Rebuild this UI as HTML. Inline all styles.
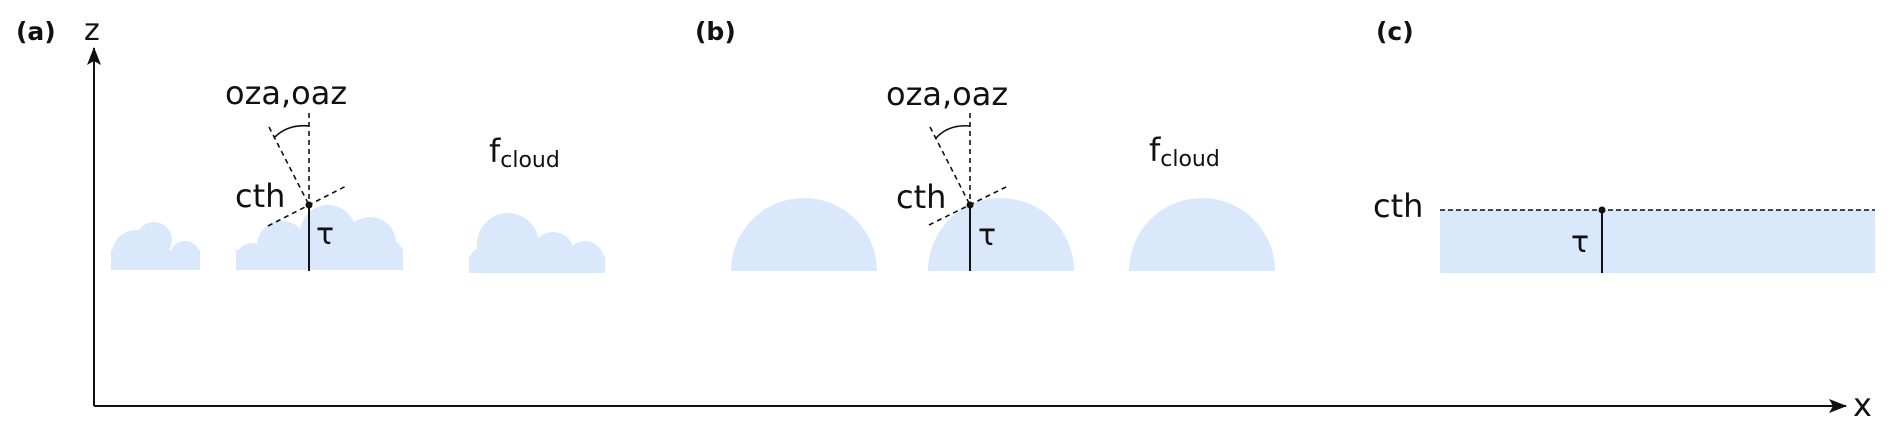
<!DOCTYPE html>
<html><head><meta charset="utf-8"><style>
html,body{margin:0;padding:0;background:#fff;}
svg{display:block;}
text{font-family:"DejaVu Sans","Liberation Sans",sans-serif;fill:#111;}
</style></head><body>
<svg width="1892" height="434" viewBox="0 0 1892 434" xmlns="http://www.w3.org/2000/svg">
<defs>
<marker id="ah" markerWidth="18" markerHeight="14" refX="17" refY="7" orient="auto" markerUnits="userSpaceOnUse" viewBox="0 0 18 14">
<path d="M0,0 L18,7 L0,14 L4,7 z" fill="#111"/></marker>
<clipPath id="c1"><rect x="111" y="180" width="89" height="90"/></clipPath>
<clipPath id="c2"><rect x="235" y="180" width="168" height="90"/></clipPath>
<clipPath id="c3"><rect x="469" y="180" width="136" height="93"/></clipPath>
</defs>
<g fill="#dae8fb">
<g clip-path="url(#c1)">
<circle cx="136" cy="254" r="24"/><circle cx="154" cy="240" r="18"/><circle cx="185" cy="256" r="15"/>
<rect x="111" y="250" width="89" height="20"/>
</g>
<g clip-path="url(#c2)">
<circle cx="252" cy="259" r="16"/><circle cx="282" cy="246" r="25"/><circle cx="328" cy="233" r="28"/><circle cx="370" cy="243" r="26"/><circle cx="391" cy="253" r="12"/>
<rect x="236" y="250" width="167" height="20"/>
</g>
<g clip-path="url(#c3)">
<circle cx="508" cy="244" r="31"/><circle cx="553" cy="253" r="21"/><circle cx="585" cy="260" r="19"/><circle cx="484" cy="262" r="15"/>
<rect x="469" y="256" width="136" height="17"/>
</g>
<path d="M731,271 A73,73 0 0 1 877,271 Z"/>
<path d="M928,271 A73,73 0 0 1 1074,271 Z"/>
<path d="M1129,271 A73,73 0 0 1 1275,271 Z"/>
<rect x="1440" y="210" width="435" height="63"/>
</g>
<line x1="94" y1="406" x2="94" y2="48" stroke="#111" stroke-width="2" marker-end="url(#ah)"/>
<line x1="94" y1="406" x2="1846" y2="406" stroke="#111" stroke-width="2" marker-end="url(#ah)"/>
<g stroke="#111" stroke-width="1.6" fill="none">
<line x1="309" y1="113" x2="309" y2="205" stroke-dasharray="5,4"/>
<line x1="269" y1="127" x2="309" y2="205" stroke-dasharray="5,4"/>
<line x1="268" y1="226" x2="348" y2="185" stroke-dasharray="5,4"/>
<path d="M275,137 Q288,124 309,126"/>
<line x1="309" y1="205" x2="309" y2="271" stroke-width="2"/>
<line x1="970" y1="113" x2="970" y2="205" stroke-dasharray="5,4"/>
<line x1="930" y1="127" x2="970" y2="205" stroke-dasharray="5,4"/>
<line x1="929" y1="225" x2="1008" y2="186" stroke-dasharray="5,4"/>
<path d="M936,138 Q949,124 970,126"/>
<line x1="970" y1="205" x2="970" y2="271" stroke-width="2"/>
<line x1="1440" y1="210" x2="1875" y2="210" stroke-dasharray="5,3"/>
<line x1="1602" y1="210" x2="1602" y2="273" stroke-width="2"/>
</g>
<circle cx="309" cy="205" r="3.5" fill="#111"/>
<circle cx="970" cy="205" r="3.5" fill="#111"/>
<circle cx="1602" cy="210" r="3.5" fill="#111"/>
<text x="16" y="40" font-size="25" font-weight="bold">(a)</text>
<text x="695" y="40" font-size="25" font-weight="bold">(b)</text>
<text x="1376" y="40" font-size="25" font-weight="bold">(c)</text>
<text x="84" y="40" font-size="30">z</text>
<text x="1853" y="416" font-size="32">x</text>
<text x="225" y="104" font-size="32">oza,oaz</text>
<text x="886" y="105" font-size="32">oza,oaz</text>
<text x="235" y="207" font-size="32">cth</text>
<text x="896" y="208" font-size="32">cth</text>
<text x="1373" y="217" font-size="32">cth</text>
<text x="316" y="244" font-size="30">τ</text>
<text x="978" y="245" font-size="30">τ</text>
<text x="1571" y="252" font-size="30">τ</text>
<text x="489" y="162" font-size="32">f<tspan font-size="22" dy="5">cloud</tspan></text>
<text x="1149" y="161" font-size="32">f<tspan font-size="22" dy="5">cloud</tspan></text>
</svg>
</body></html>
